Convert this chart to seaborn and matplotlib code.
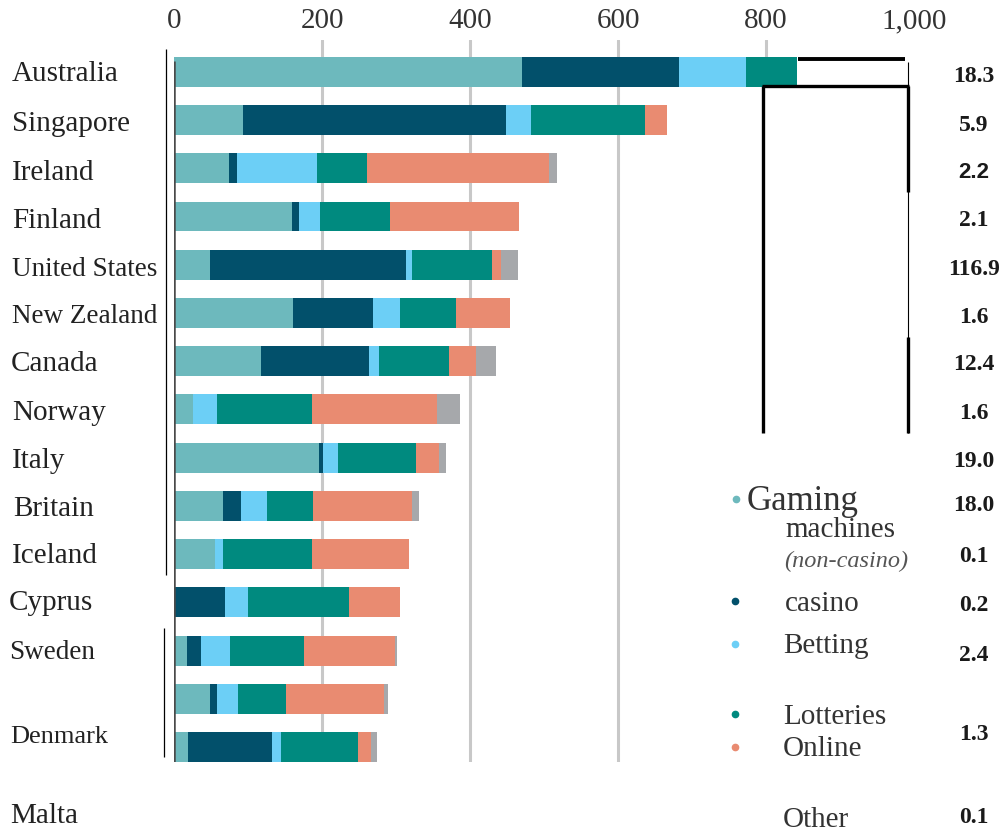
import pandas as pd
import matplotlib.pyplot as plt
from matplotlib.lines import Line2D
import seaborn as sns

# Data ($ per adult, stacked by type of gambling)
bar_ids = ["b%02d" % i for i in range(15)]
country_labels = ["Australia", "Singapore", "Ireland", "Finland", "United States", "New Zealand",
                  "Canada", "Norway", "Italy", "Britain", "Iceland", "Cyprus", "Sweden", "Denmark", "Malta"]
gaming = [470, 93, 74, 159, 49, 161, 118, 25, 196, 66, 55, 0, 18, 48, 19]
casino = [212, 356, 11, 10, 264, 108, 146, 0, 6, 25, 0, 69, 19, 10, 114]
betting = [91, 33, 108, 28, 9, 36, 13, 33, 19, 35, 11, 31, 39, 28, 12]
lotteries = [69, 155, 68, 95, 108, 76, 95, 129, 106, 62, 120, 136, 100, 65, 103]
online = [0, 29, 246, 174, 12, 73, 36, 169, 31, 134, 132, 69, 123, 133, 18]
other = [0, 0, 10, 0, 23, 0, 27, 31, 9, 9, 0, 0, 3, 5, 8]
side_values = ["18.3", "5.9", "2.2", "2.1", "116.9", "1.6", "12.4", "1.6", "19.0", "18.0",
               "0.1", "0.2", "2.4", "1.3", "0.1"]
tick_values = [0, 200, 400, 600, 800, 1000]
tick_labels = ["0", "200", "400", "600", "800", "1,000"]

categories = ["gaming", "casino", "betting", "lotteries", "online", "other"]
colors = {"gaming": "#6db9bd", "casino": "#02506b", "betting": "#6ccff6",
          "lotteries": "#008a7f", "online": "#e98b71", "other": "#a6a8ab"}

df = pd.DataFrame({"bar": bar_ids, "gaming": gaming, "casino": casino, "betting": betting,
                   "lotteries": lotteries, "online": online, "other": other})
cum = df[categories].cumsum(axis=1)
cum["bar"] = df["bar"]

sns.set_style("white")
plt.rcParams['font.family'] = ['Liberation Serif', 'DejaVu Serif']

W, H = 1006, 833
fig = plt.figure(figsize=(W / 100, H / 100), dpi=100)
ax = fig.add_axes([174 / W, (H - 762) / H, 740 / W, 722 / H])

def fx(x):
    return x / W

def fy(y):
    return 1 - y / H

# gridlines behind the bars (the 800 one only shows above the top bar)
for v in tick_values[1:-2]:
    ax.axvline(v, color="#c8c8c8", lw=2.2, zorder=0)
ax.axvline(800, ymin=0.975, ymax=1, color="#c8c8c8", lw=2.2, zorder=0)

# stacked bars: draw the running totals from the outside in
for cat in reversed(categories):
    sns.barplot(data=cum, x=cat, y="bar", order=bar_ids, orient="h", color=colors[cat],
                saturation=1, width=0.62, errorbar=None, linewidth=0, ax=ax, zorder=2)

ax.plot([0, 0], [-0.23, 14.31], color="#4a4a4a", lw=1.8, zorder=3, solid_capstyle="butt")

ax.set_xlim(0, 1000)
ax.set_ylim(14.31, -0.66)
ax.set_xticks(tick_values)
ax.set_xticklabels(tick_labels)
ax.xaxis.tick_top()
ax.tick_params(axis="x", length=0, pad=4, labelsize=21, labelcolor="#333333")
ax.set_yticks([])
ax.set_xlabel("")
ax.set_ylabel("")
sns.despine(ax=ax, left=True, bottom=True, top=True, right=True)

# country names (placed where the picture has them)
label_x = [12, 12, 12, 12, 12, 12, 11, 12, 12, 13, 12, 9, 9, 10, 10]
label_base = [81, 131, 180, 228, 276, 323, 371, 420, 468, 516, 563, 610, 659, 743, 823]
label_size = [21, 21, 21, 21, 19.5, 19.5, 21, 21, 21, 21, 21, 21, 19.5, 19, 21]
for name, x, y, s in zip(country_labels, label_x, label_base, label_size):
    fig.text(fx(x), fy(y), name, ha="left", va="baseline", fontsize=s, color="#222222")

# right-hand column of figures
side_base = [82, 131, 178, 226, 275, 323, 370, 419, 467, 511, 562, 611, 661, 740, 823]
for val, y in zip(side_values, side_base):
    if val == "2.2":
        fig.text(fx(974), fy(y), val, ha="center", va="baseline", fontsize=16,
                 fontweight="bold", color="#1a1a1a", family=["Liberation Sans", "DejaVu Sans"])
    else:
        fig.text(fx(974), fy(y), val, ha="center", va="baseline", fontsize=17,
                 fontweight="bold", color="#1a1a1a")

# legend
fig.text(fx(747), fy(510), "Gaming", ha="left", va="baseline", fontsize=25, color="#333333")
fig.text(fx(785), fy(537), "machines", ha="left", va="baseline", fontsize=21, color="#333333")
fig.text(fx(784), fy(567), "(non-casino)", ha="left", va="baseline", fontsize=17.5,
         style="italic", color="#555555")
legend_rows = [("casino", "casino", 785, 611, 601), ("Betting", "betting", 783, 653, 644),
               ("Lotteries", "lotteries", 783, 724, 714), ("Online", "online", 783, 756, 747)]
for text, cat, x, yb, ydot in legend_rows:
    fig.text(fx(x), fy(yb), text, ha="left", va="baseline", fontsize=21, color="#333333")
    fig.add_artist(Line2D([fx(735)], [fy(ydot)], marker="o", ms=4.5, color=colors[cat],
                          transform=fig.transFigure))
fig.add_artist(Line2D([fx(736)], [fy(499)], marker="o", ms=4.5, color=colors["gaming"],
                      transform=fig.transFigure))
fig.text(fx(783), fy(827), "Other", ha="left", va="baseline", fontsize=21, color="#333333")

# black bracket lines
def seg(x0, y0, x1, y1, lw):
    fig.add_artist(Line2D([fx(x0), fx(x1)], [fy(y0), fy(y1)], color="black", lw=lw,
                          transform=fig.transFigure, solid_capstyle="butt"))

seg(798, 59, 905, 59, 2.8)
seg(908, 62, 908, 433, 0.8)
seg(908, 86, 908, 192, 2.4)
seg(908, 337, 908, 433, 2.4)
seg(762, 86, 909, 86, 2.4)
seg(763, 86, 763, 433, 2.4)

# thin lines left of the bars
seg(166, 49, 166, 575, 0.9)
seg(164, 628, 164, 757, 0.9)

fig.savefig("out.png", dpi=100)
